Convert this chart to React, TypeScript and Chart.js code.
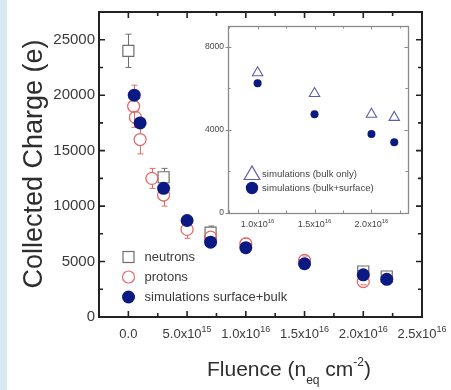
import React, { useEffect, useRef } from "react";
import { Chart, registerables } from "chart.js";
Chart.register(...registerables);

// ---------- data ----------
const neutronX = [0, 3e15, 7e15, 2e16, 2.2e16];
const neutronY = [24000, 12600, 7600, 4100, 3650];
const neutronErr = [1500, 800, 600, 300, 250];

const protonX = [0.45e15, 0.6e15, 1e15, 2e15, 3e15, 5e15, 7e15, 1e16, 1.5e16, 2e16];
const protonY = [19000, 18000, 16000, 12500, 11000, 7900, 7200, 6600, 5100, 3200];
const protonErr = [1900, 500, 1300, 900, 1000, 800, 500, 500, 400, 300];

const simX = [0.5e15, 1e15, 3e15, 5e15, 7e15, 1e16, 1.5e16, 2e16, 2.2e16];
const simY = [20000, 17500, 11600, 8700, 6750, 6250, 4800, 3800, 3400];

const insetX = [1e16, 1.5e16, 2e16, 2.2e16];
const insetBulkOnly = [6750, 5750, 4750, 4600];
const insetBulkSurface = [6250, 4750, 3800, 3400];

const xTickValues = [0, 5e15, 1e16, 1.5e16, 2e16, 2.5e16];
const xTickLabels: [string, string][] = [
  ["0.0", ""], ["5.0x10", "15"], ["1.0x10", "16"], ["1.5x10", "16"], ["2.0x10", "16"], ["2.5x10", "16"],
];
const yTickValues = [0, 5000, 10000, 15000, 20000, 25000];
const yTickLabels = ["0", "5000", "10000", "15000", "20000", "25000"];

const insetXTickValues = [1e16, 1.5e16, 2e16];
const insetXTickLabels: [string, string][] = [["1.0x10", "16"], ["1.5x10", "16"], ["2.0x10", "16"]];
const insetYTickValues = [0, 4000, 8000];
const insetYTickLabels = ["0", "4000", "8000"];

const legendMain = ["neutrons", "protons", "simulations surface+bulk"];
const legendInset = ["simulations (bulk only)", "simulations (bulk+surface)"];

// ---------- style ----------
const FONT = '"Liberation Sans", Arial, sans-serif';
const NAVY = "#0b1a82";
const RED = "#e36b6b";
const GRAY = "#6e6e6e";
const TRI = "#5c5cae";
const TEXT = "#3a3a3a";

type Part = { t: string; size: number; dy: number };
function drawRich(ctx: CanvasRenderingContext2D, parts: Part[], x: number, y: number, align: string) {
  const widths: number[] = [];
  let total = 0;
  for (const p of parts) {
    ctx.font = `${p.size}px ${FONT}`;
    const w = ctx.measureText(p.t).width;
    widths.push(w);
    total += w;
  }
  let cx = align === "center" ? x - total / 2 : align === "right" ? x - total : x;
  ctx.textAlign = "left";
  ctx.textBaseline = "alphabetic";
  parts.forEach((p, i) => {
    ctx.font = `${p.size}px ${FONT}`;
    ctx.fillText(p.t, cx, y + p.dy);
    cx += widths[i];
  });
}

function drawTriangle(ctx: CanvasRenderingContext2D, x: number, y: number, r: number) {
  ctx.beginPath();
  ctx.moveTo(x, y - r);
  ctx.lineTo(x - r * 0.866, y + r * 0.5);
  ctx.lineTo(x + r * 0.866, y + r * 0.5);
  ctx.closePath();
  ctx.stroke();
}

const pts = (xs: number[], ys: number[]) => xs.map((x, i) => ({ x, y: ys[i] }));

const mainPlugin = {
  id: "mainDecor",
  beforeDatasetsDraw(chart: any) {
    const ctx: CanvasRenderingContext2D = chart.ctx;
    const xs = chart.scales.x, ys = chart.scales.y;
    const bars = (X: number[], Y: number[], E: number[], color: string, r: number) => {
      ctx.save();
      ctx.strokeStyle = color;
      ctx.lineWidth = 1;
      X.forEach((xv, i) => {
        const px = Math.round(xs.getPixelForValue(xv)) + 0.5;
        const pc = ys.getPixelForValue(Y[i]);
        const pt = ys.getPixelForValue(Y[i] + E[i]);
        const pb = ys.getPixelForValue(Y[i] - E[i]);
        ctx.beginPath();
        if (pc - r > pt) { ctx.moveTo(px, pt); ctx.lineTo(px, pc - r); }
        if (pc + r < pb) { ctx.moveTo(px, pc + r); ctx.lineTo(px, pb); }
        ctx.moveTo(px - 3, pt); ctx.lineTo(px + 3, pt);
        ctx.moveTo(px - 3, pb); ctx.lineTo(px + 3, pb);
        ctx.stroke();
      });
      ctx.restore();
    };
    bars(neutronX, neutronY, neutronErr, GRAY, 5.5);
    bars(protonX, protonY, protonErr, RED, 6);
  },
  afterDraw(chart: any) {
    const ctx: CanvasRenderingContext2D = chart.ctx;
    const { left, right, top, bottom } = chart.chartArea;
    const xs = chart.scales.x, ys = chart.scales.y;
    ctx.save();
    // ticks
    ctx.strokeStyle = "#222";
    ctx.lineWidth = 1.6;
    ctx.beginPath();
    for (let i = -1; i <= 10; i++) {
      const v = i * 2.5e15;
      const px = xs.getPixelForValue(v);
      const len = i % 2 === 0 ? 6 : 4;
      ctx.moveTo(px, bottom); ctx.lineTo(px, bottom - len);
      ctx.moveTo(px, top); ctx.lineTo(px, top + len);
    }
    for (let i = 0; i <= 11; i++) {
      const v = i * 2500;
      const py = ys.getPixelForValue(v);
      const len = i % 2 === 0 ? 6 : 4;
      ctx.moveTo(left, py); ctx.lineTo(left + len, py);
      ctx.moveTo(right, py); ctx.lineTo(right - len, py);
    }
    ctx.stroke();
    // frame
    ctx.lineWidth = 2;
    ctx.strokeRect(left, top, right - left, bottom - top);
    // y tick labels
    ctx.fillStyle = TEXT;
    ctx.font = `15px ${FONT}`;
    ctx.textAlign = "right";
    ctx.textBaseline = "middle";
    yTickValues.forEach((v, i) => ctx.fillText(yTickLabels[i], left - 4, ys.getPixelForValue(v)));
    // x tick labels
    xTickValues.forEach((v, i) => {
      const [b, e] = xTickLabels[i];
      const parts: Part[] = [{ t: b, size: 13, dy: 0 }];
      if (e) parts.push({ t: e, size: 9, dy: -6 });
      drawRich(ctx, parts, xs.getPixelForValue(v), bottom + 21, "center");
    });
    // axis titles
    ctx.fillStyle = "#2e2e2e";
    drawRich(ctx, [
      { t: "Fluence (n", size: 21, dy: 0 },
      { t: "eq", size: 12, dy: 8 },
      { t: " cm", size: 21, dy: 0 },
      { t: "-2", size: 12, dy: -10 },
      { t: ")", size: 21, dy: 0 },
    ], 289, 376, "center");
    ctx.save();
    ctx.translate(35, 164);
    ctx.rotate(-Math.PI / 2);
    ctx.font = `27px ${FONT}`;
    ctx.textAlign = "center";
    ctx.textBaseline = "middle";
    ctx.fillText("Collected Charge (e)", 0, 0);
    ctx.restore();
    // legend
    const lx = 128.5, tx = 144.5;
    const ly = [257, 277, 297];
    ctx.lineWidth = 1.2;
    ctx.strokeStyle = GRAY;
    ctx.strokeRect(lx - 5.5, ly[0] - 5.5, 11, 11);
    ctx.strokeStyle = RED;
    ctx.beginPath(); ctx.arc(lx, ly[1], 6, 0, Math.PI * 2); ctx.stroke();
    ctx.fillStyle = NAVY;
    ctx.beginPath(); ctx.arc(lx, ly[2], 6.5, 0, Math.PI * 2); ctx.fill();
    ctx.fillStyle = TEXT;
    ctx.font = `13px ${FONT}`;
    ctx.textAlign = "left";
    ctx.textBaseline = "middle";
    legendMain.forEach((t, i) => ctx.fillText(t, tx, ly[i]));
    ctx.restore();
  },
};

const insetPlugin = {
  id: "insetDecor",
  beforeDraw(chart: any) {
    const ctx: CanvasRenderingContext2D = chart.ctx;
    const { left, right, top, bottom } = chart.chartArea;
    ctx.save();
    ctx.fillStyle = "#fff";
    ctx.fillRect(left, top, right - left, bottom - top);
    ctx.restore();
  },
  afterDraw(chart: any) {
    const ctx: CanvasRenderingContext2D = chart.ctx;
    const { left, right, top, bottom } = chart.chartArea;
    const xs = chart.scales.x, ys = chart.scales.y;
    ctx.save();
    ctx.strokeStyle = "#8a8a8a";
    ctx.lineWidth = 1;
    ctx.beginPath();
    for (let i = 3; i <= 9; i++) {
      const v = i * 0.25e16;
      const px = Math.round(xs.getPixelForValue(v)) + 0.5;
      if (px < left || px > right) continue;
      const len = i % 2 === 0 ? 3.5 : 2.5;
      ctx.moveTo(px, bottom); ctx.lineTo(px, bottom - len);
      ctx.moveTo(px, top); ctx.lineTo(px, top + len);
    }
    for (let i = 0; i <= 4; i++) {
      const v = i * 2000;
      const py = Math.round(ys.getPixelForValue(v)) + 0.5;
      const len = i % 2 === 0 ? 3.5 : 2.5;
      ctx.moveTo(left - (i % 2 === 0 ? 2.5 : 0), py); ctx.lineTo(left + len, py);
      ctx.moveTo(right, py); ctx.lineTo(right - len, py);
    }
    ctx.stroke();
    ctx.lineWidth = 1.3;
    ctx.strokeStyle = "#8a8a8a";
    ctx.strokeRect(Math.round(left) + 0.5, Math.round(top) + 0.5, Math.round(right - left), Math.round(bottom - top));
    ctx.fillStyle = "#444";
    ctx.font = `8.5px ${FONT}`;
    ctx.textAlign = "right";
    ctx.textBaseline = "middle";
    insetYTickValues.forEach((v, i) => ctx.fillText(insetYTickLabels[i], left - 4, ys.getPixelForValue(v)));
    insetXTickValues.forEach((v, i) => {
      const [b, e] = insetXTickLabels[i];
      drawRich(ctx, [{ t: b, size: 9, dy: 0 }, { t: e, size: 6, dy: -4 }], xs.getPixelForValue(v), bottom + 14, "center");
    });
    // legend
    const lx = left + 24, tx = left + 34;
    const ly = [top + 148, top + 162];
    ctx.strokeStyle = TRI;
    ctx.lineWidth = 1.2;
    drawTriangle(ctx, lx, ly[0] + 1, 9);
    ctx.fillStyle = NAVY;
    ctx.beginPath(); ctx.arc(lx, ly[1], 6.2, 0, Math.PI * 2); ctx.fill();
    ctx.fillStyle = "#444";
    ctx.font = `9.6px ${FONT}`;
    ctx.textAlign = "left";
    ctx.textBaseline = "middle";
    legendInset.forEach((t, i) => ctx.fillText(t, tx, ly[i]));
    ctx.restore();
  },
};

export default function App() {
  const mainRef = useRef<HTMLCanvasElement>(null);
  const insetRef = useRef<HTMLCanvasElement>(null);

  useEffect(() => {
    const main = new Chart(mainRef.current!, {
      type: "scatter",
      data: {
        datasets: [
          {
            label: "neutrons",
            data: pts(neutronX, neutronY),
            pointStyle: "rect",
            pointRadius: 7.8,
            borderColor: GRAY,
            backgroundColor: "#fff",
            borderWidth: 1.2,
            order: 3,
          },
          {
            label: "protons",
            data: pts(protonX, protonY),
            pointStyle: "circle",
            pointRadius: 6,
            borderColor: RED,
            backgroundColor: "rgba(255,255,255,0)",
            borderWidth: 1.3,
            order: 2,
          },
          {
            label: "simulations surface+bulk",
            data: pts(simX, simY),
            pointStyle: "circle",
            pointRadius: 6.5,
            borderColor: NAVY,
            backgroundColor: NAVY,
            borderWidth: 0,
            order: 1,
          },
        ],
      },
      options: {
        responsive: false,
        devicePixelRatio: 1,
        animation: false,
        events: [],
        layout: { padding: { left: 99, top: 12, right: 29, bottom: 73 } },
        scales: {
          x: { type: "linear", display: false, min: -2.5e15, max: 2.5e16 },
          y: { type: "linear", display: false, min: 0, max: 27500 },
        },
        plugins: { legend: { display: false }, tooltip: { enabled: false } },
      },
      plugins: [mainPlugin],
    } as any);

    const inset = new Chart(insetRef.current!, {
      type: "scatter",
      data: {
        datasets: [
          {
            label: "simulations (bulk only)",
            data: pts(insetX, insetBulkOnly),
            pointStyle: "triangle",
            pointRadius: 6,
            borderColor: TRI,
            backgroundColor: "rgba(255,255,255,0)",
            borderWidth: 1.1,
          },
          {
            label: "simulations (bulk+surface)",
            data: pts(insetX, insetBulkSurface),
            pointStyle: "circle",
            pointRadius: 4,
            borderColor: NAVY,
            backgroundColor: NAVY,
            borderWidth: 0,
          },
        ],
      },
      options: {
        responsive: false,
        devicePixelRatio: 1,
        animation: false,
        events: [],
        layout: { padding: { left: 38, top: 10, right: 7, bottom: 27 } },
        scales: {
          x: { type: "linear", display: false, min: 0.74e16, max: 2.32e16 },
          y: { type: "linear", display: false, min: 0, max: 9000 },
        },
        plugins: { legend: { display: false }, tooltip: { enabled: false } },
      },
      plugins: [insetPlugin],
    } as any);

    return () => {
      main.destroy();
      inset.destroy();
    };
  }, []);

  return (
    <div style={{ position: "fixed", left: 0, top: 0, width: 451, height: 390, background: "#fff", overflow: "hidden" }}>
      <div style={{ position: "absolute", left: 0, top: 0, width: 7, height: 390, background: "#d5eaf2" }} />
      <canvas ref={mainRef} width={451} height={390} style={{ position: "absolute", left: 0, top: 0, width: 451, height: 390 }} />
      <canvas ref={insetRef} width={225} height={224} style={{ position: "absolute", left: 190, top: 16, width: 225, height: 224 }} />
    </div>
  );
}
